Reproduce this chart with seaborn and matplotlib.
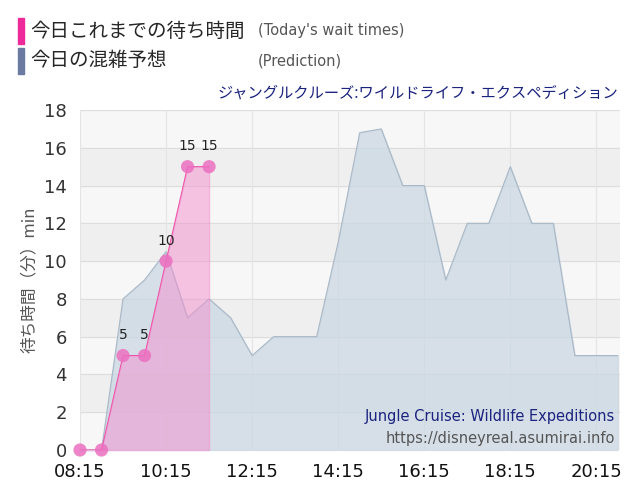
import numpy as np
import pandas as pd
import matplotlib
matplotlib.use("Agg")
import matplotlib.pyplot as plt
import seaborn as sns
from matplotlib.patches import Rectangle

# prediction every 30 min from 08:15
pred_hours = [8.25 + 0.5 * k for k in range(26)]
pred_values = [0, 0, 8, 9, 10.5, 7, 8, 7, 5, 6, 6, 6, 11, 16.8, 17, 14, 14, 9,
               12, 12, 15, 12, 12, 5, 5, 5]

wait_hours = [8.25, 8.75, 9.25, 9.75, 10.25, 10.75, 11.25]
wait_values = [0, 0, 5, 5, 10, 15, 15]

tick_hours = [8.25, 10.25, 12.25, 14.25, 16.25, 18.25, 20.25]
tick_labels = ["08:15", "10:15", "12:15", "14:15", "16:15", "18:15", "20:15"]

pred = pd.DataFrame({"h": pred_hours, "v": pred_values})
wait = pd.DataFrame({"h": wait_hours, "v": wait_values})

sns.set_theme(style="white")
plt.rcParams["font.family"] = ["DejaVu Sans", "Noto Sans CJK JP"]
JP = "Noto Sans CJK JP"
fig = plt.figure(figsize=(6.4, 5.0), dpi=100)
ax = fig.add_axes([80 / 640, 50 / 500, 540 / 640, 340 / 500])

ax.set_facecolor("#f7f7f7")
for y0 in range(0, 18, 4):
    ax.axhspan(y0 + 2, y0 + 4, color="#efefef", zorder=0)
for y in range(0, 19, 2):
    ax.axhline(y, color="#dddddd", lw=0.8, zorder=0.5)
for t in tick_hours:
    ax.axvline(t, color="#e4e4e4", lw=0.8, zorder=0.5)

ax.fill_between(pred["h"], pred["v"], color="#c8d6e2", alpha=0.7, zorder=1)
sns.lineplot(data=pred, x="h", y="v", ax=ax, color="#a9b8c6", lw=0.8, zorder=2)

ax.fill_between(wait["h"], wait["v"], color="#f48fcf", alpha=0.5, zorder=3)
sns.lineplot(data=wait, x="h", y="v", ax=ax, color="#ee55aa", lw=0.8, zorder=4)
pts = sns.scatterplot(data=wait, x="h", y="v", ax=ax, color="#ec6fc0", s=90,
                      alpha=0.85, edgecolor="none", zorder=5)
for c in ax.collections:
    c.set_clip_on(False)
for h, v in zip(wait_hours, wait_values):
    if v > 0:
        ax.text(h, v + 0.7, str(v), ha="center", va="bottom", fontsize=10,
                color="#222222", zorder=6)

ax.set_xlim(8.25, 20.8)
ax.set_ylim(0, 18)
ax.set_yticks(range(0, 19, 2))
ax.set_xticks(tick_hours)
ax.set_xticklabels(tick_labels, fontsize=13)
ax.tick_params(axis="y", labelsize=13, labelcolor="#333333")
ax.tick_params(axis="x", labelcolor="#111111")
ax.set_xlabel("")
ax.set_ylabel("待ち時間（分）min", fontsize=12, color="#555555", family=JP)
for s in ax.spines.values():
    s.set_visible(False)

ax.text(0.99, 0.085, "Jungle Cruise: Wildlife Expeditions", transform=ax.transAxes,
        ha="right", fontsize=10.5, color="#1a237e")
ax.text(0.99, 0.02, "https://disneyreal.asumirai.info", transform=ax.transAxes,
        ha="right", fontsize=10.5, color="#555555")
fig.text(618 / 640, 1 - 93 / 500, "ジャングルクルーズ:ワイルドライフ・エクスペディション",
         ha="right", va="center", fontsize=11, color="#1a237e", family=JP)

fig.patches.append(Rectangle((18 / 640, 1 - 44 / 500), 6 / 640, 26 / 500,
                             transform=fig.transFigure, color="#ee2a9b"))
fig.patches.append(Rectangle((18 / 640, 1 - 74 / 500), 6 / 640, 26 / 500,
                             transform=fig.transFigure, color="#6a7aa0"))
fig.text(30 / 640, 1 - 31 / 500, "今日これまでの待ち時間", va="center", fontsize=14, family=JP)
fig.text(30 / 640, 1 - 61 / 500, "今日の混雑予想", va="center", fontsize=14, family=JP)
fig.text(258 / 640, 1 - 31 / 500, "(Today's wait times)", va="center",
         fontsize=10.5, color="#555555")
fig.text(258 / 640, 1 - 61 / 500, "(Prediction)", va="center",
         fontsize=10.5, color="#555555")

fig.savefig("out.png", dpi=100)
